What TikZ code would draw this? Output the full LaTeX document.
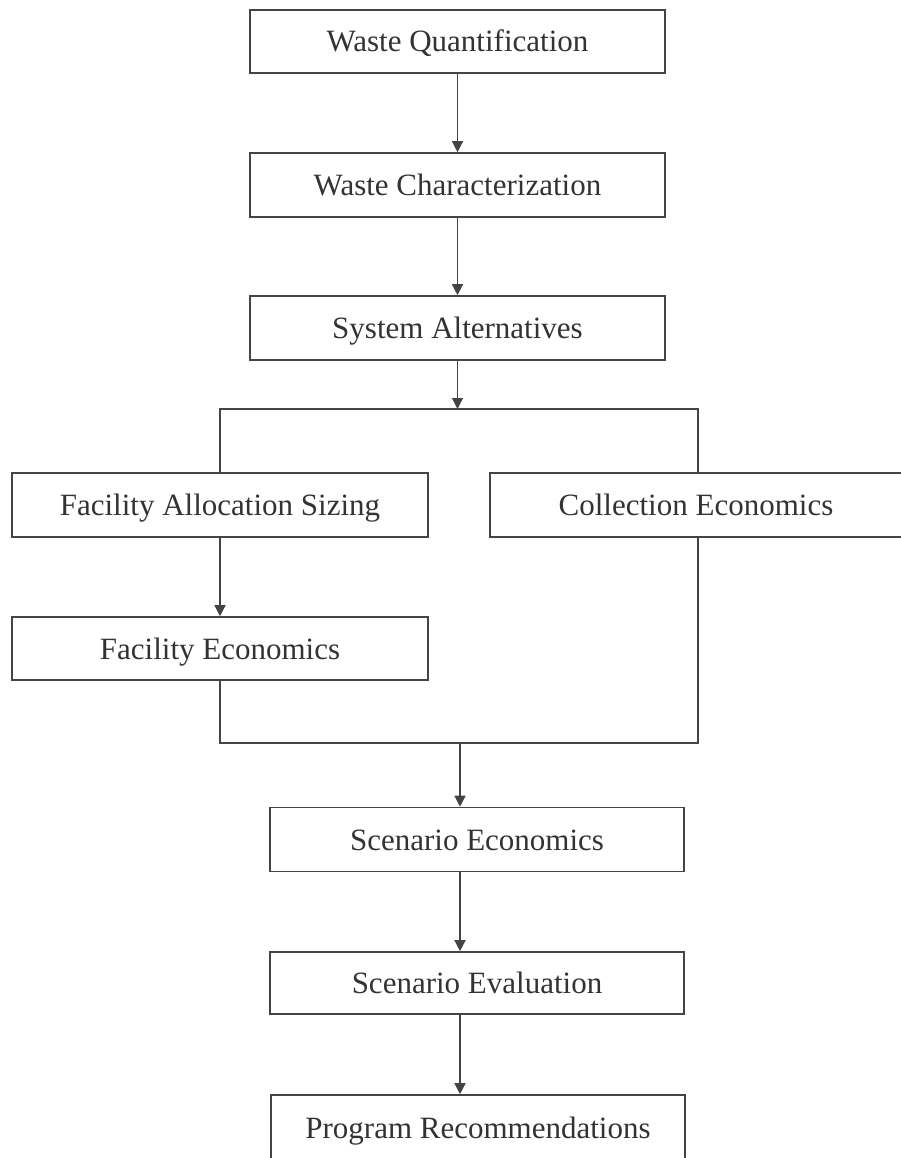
\documentclass[tikz,border=0pt]{standalone}
\usepackage{fontspec}
\setmainfont{Liberation Serif}
\usetikzlibrary{arrows.meta}
\definecolor{ink}{HTML}{444444}
\definecolor{txt}{HTML}{333333}
\begin{document}
\begin{tikzpicture}[x=1pt,y=-1pt,
  box/.style={draw=ink,line width=1.6pt,rectangle,inner sep=0pt,
    font=\fontsize{31}{36}\selectfont,text=txt,anchor=center,
    text height=22pt,text depth=1pt},
  conn/.style={draw=ink,line width=1.4pt},
  arr/.style={conn,-{Triangle[length=11pt,width=11pt]}}]
\useasboundingbox (0,0) rectangle (901,1158);
\fill[white] (0,0) rectangle (901,1158);
\clip (0,0) rectangle (901,1158);
% nodes
\node[box,minimum width=415pt,minimum height=63pt] (q) at (457.5,41.5) {Waste Quantification};
\node[box,minimum width=415pt,minimum height=64pt] (c) at (457.5,185) {Waste Characterization};
\node[box,minimum width=415pt,minimum height=64pt] (a) at (457.5,328) {System Alternatives};
\node[box,minimum width=416pt,minimum height=64pt] (fa) at (220,505) {Facility Allocation Sizing};
\node[box,minimum width=412pt,minimum height=64pt] (ce) at (696,505) {Collection Economics};
\node[box,minimum width=416pt,minimum height=63pt] (fe) at (220,648.5) {Facility Economics};
\node[box,minimum width=414pt,minimum height=64pt] (se) at (477,839.5) {Scenario Economics};
\node[box,minimum width=414pt,minimum height=62pt] (ev) at (477,983) {Scenario Evaluation};
\node[box,minimum width=414pt,minimum height=65pt] (pr) at (478,1127.5) {Program Recommendations};
% junction coordinates
\coordinate (j1) at (457.5,409);
\coordinate (j1l) at (220,409);
\coordinate (j1r) at (698,409);
\coordinate (j2) at (460,743);
\coordinate (j2l) at (220,743);
\coordinate (j2r) at (698,743);
% connectors
\draw[arr] (q.south -| j1) -- (c.north -| j1);
\draw[arr] (c.south -| j1) -- (a.north -| j1);
\draw[arr] (a.south -| j1) -- (j1);
\draw[conn] (j1l |- fa.north) -- (j1l) -- (j1r) -- (j1r |- ce.north);
\draw[arr] (fa.south) -- (fe.north);
\draw[conn] (fe.south) -- (j2l) -- (j2r) -- (j2r |- ce.south);
\draw[arr] (j2) -- (j2 |- se.north);
\draw[arr] (se.south -| j2) -- (ev.north -| j2);
\draw[arr] (ev.south -| j2) -- (pr.north -| j2);
\end{tikzpicture}
\end{document}
